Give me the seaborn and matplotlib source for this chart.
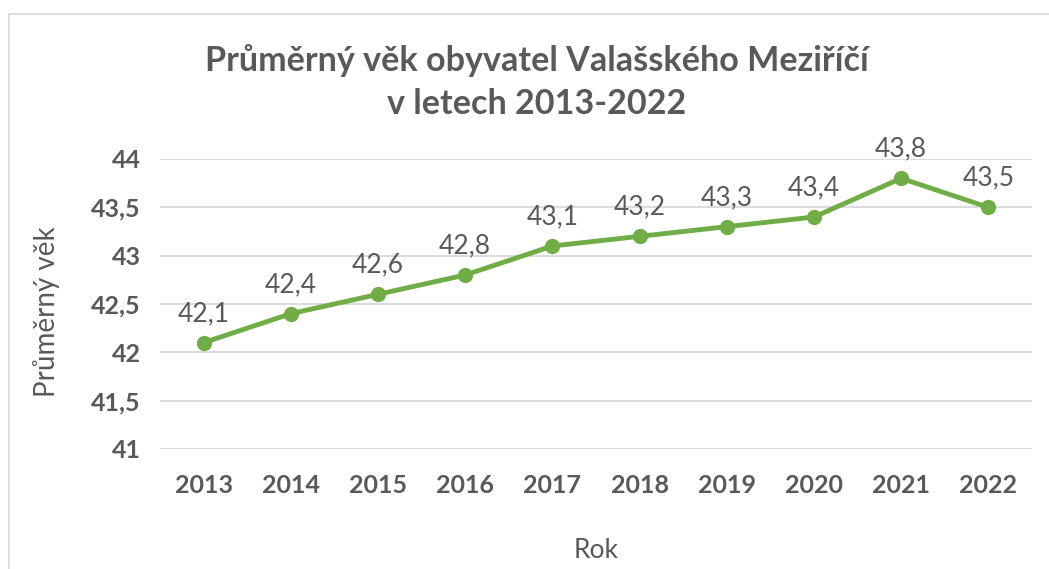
import matplotlib
matplotlib.use("Agg")
import matplotlib.pyplot as plt
import seaborn as sns
import pandas as pd
from matplotlib.lines import Line2D

years = [2013, 2014, 2015, 2016, 2017, 2018, 2019, 2020, 2021, 2022]
ages = [42.1, 42.4, 42.6, 42.8, 43.1, 43.2, 43.3, 43.4, 43.8, 43.5]
yticks = [41, 41.5, 42, 42.5, 43, 43.5, 44]
title = "Průměrný věk obyvatel Valašského Meziříčí\nv letech 2013-2022"
xlabel = "Rok"
ylabel = "Průměrný věk"

sns.set_theme(style="white")
plt.rcParams['font.family'] = ['Lato', 'DejaVu Sans']

GRAY = "#595959"
GREEN = "#70AD47"
GRID = "#D9D9D9"

df = pd.DataFrame({"year": years, "age": ages})

W, H = 1049, 569
fig = plt.figure(figsize=(W / 100, H / 100), dpi=100)
ax = fig.add_axes([160 / W, 1 - 449 / H, (1032 - 160) / W, (449 - 159) / H])

sns.lineplot(data=df, x="year", y="age", ax=ax, color=GREEN, linewidth=3.5,
             marker="o", markersize=11, markeredgewidth=0, zorder=3)

ax.set_xlim(years[0] - 0.5, years[-1] + 0.5)
ax.set_ylim(yticks[0], yticks[-1])
ax.set_yticks(yticks)
ax.set_yticklabels([f"{t:g}".replace(".", ",") for t in yticks])
ax.set_xticks(years)
ax.set_xticklabels([str(y) for y in years])
ax.grid(axis="y", color=GRID, linewidth=1.3)
ax.set_axisbelow(True)
for s in ax.spines.values():
    s.set_visible(False)
ax.tick_params(axis="x", length=0, labelsize=18, labelcolor=GRAY, pad=18)
ax.tick_params(axis="y", length=0, labelsize=18, labelcolor=GRAY, pad=14)
for lab in ax.get_xticklabels() + ax.get_yticklabels():
    lab.set_fontweight("bold")

for x, y in zip(years, ages):
    ax.annotate(f"{y}".replace(".", ","), (x, y), xytext=(0, 12), textcoords="offset points",
                ha="center", va="bottom", fontsize=19, color=GRAY)

ax.set_xlabel("")
ax.set_ylabel("")
fig.text(596 / W, 1 - 551 / H, xlabel, ha="center", va="center", fontsize=19, color=GRAY)
fig.text(47 / W, 1 - 312 / H, ylabel, ha="center", va="center", rotation=90, fontsize=20, color=GRAY)
fig.text(537 / W, 1 - 82 / H, title, ha="center", va="center", fontsize=24.6, fontweight="bold",
         color=GRAY, linespacing=1.45)

fig.add_artist(Line2D([9 / W, 1], [1 - 14 / H, 1 - 14 / H], transform=fig.transFigure, color=GRID, linewidth=1.3))
fig.add_artist(Line2D([9 / W, 9 / W], [1 - 14 / H, 0], transform=fig.transFigure, color=GRID, linewidth=1.3))

fig.savefig("out.png", dpi=100)
